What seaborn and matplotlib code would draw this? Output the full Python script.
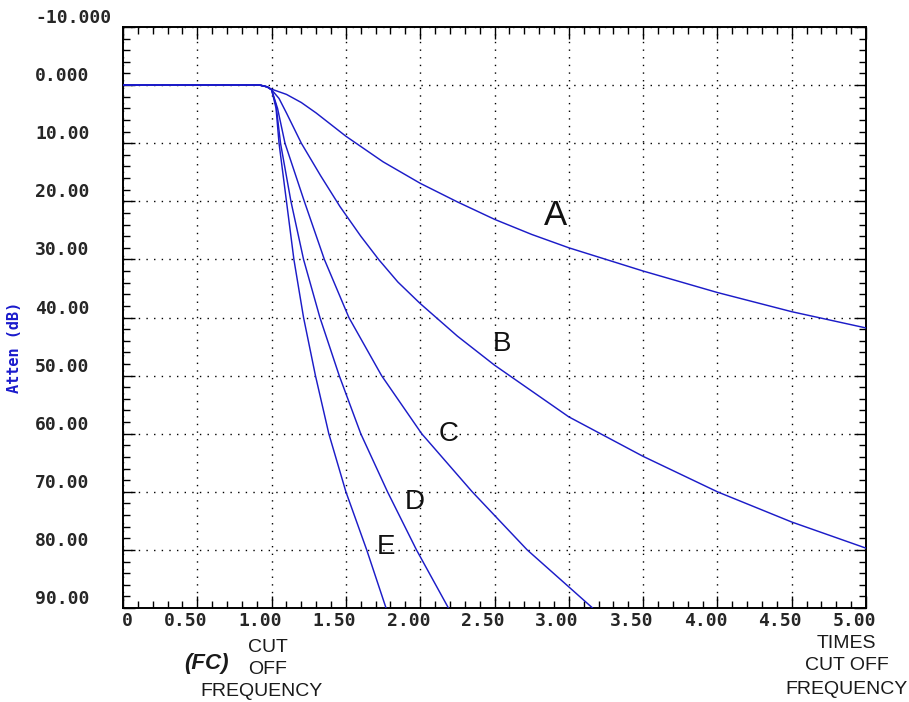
import matplotlib
matplotlib.use("Agg")
import matplotlib.pyplot as plt
import matplotlib.transforms as mtransforms
from matplotlib.ticker import MultipleLocator
import pandas as pd
import seaborn as sns

# attenuation (dB) vs frequency (times cut-off)
a_freq = [0, 0.92, 0.97, 1.0, 1.1, 1.2, 1.3, 1.4, 1.5, 1.75, 2.0, 2.25,
          2.5, 2.75, 3.0, 3.5, 4.0, 4.5, 5.0]
a_atten = [0, 0, 0.3, 0.7, 1.6, 3.0, 4.8, 6.8, 8.8, 13.2, 16.9, 20.1,
           23.1, 25.7, 28.0, 32.0, 35.7, 39.0, 41.8]

b_freq = [0, 0.92, 0.97, 1.0, 1.05, 1.1, 1.2, 1.33, 1.46, 1.6, 1.72, 1.85,
          2.0, 2.25, 2.5, 3.0, 3.5, 4.0, 4.5, 5.0]
b_atten = [0, 0, 0.3, 0.8, 2.3, 4.8, 10.0, 15.6, 20.9, 26.0, 30.0, 33.9,
           37.6, 43.2, 48.2, 57.1, 63.9, 70.0, 75.2, 79.7]

c_freq = [0, 0.92, 0.97, 1.0, 1.04, 1.09, 1.22, 1.355, 1.52, 1.74, 2.01,
          2.35, 2.72, 3.16]
c_atten = [0, 0, 0.3, 0.8, 4.0, 10.0, 20.0, 30.0, 40.0, 50.0, 60.0,
           70.0, 80.0, 90.0]

d_freq = [0, 0.92, 0.97, 1.0, 1.03, 1.06, 1.13, 1.215, 1.325, 1.455, 1.60,
          1.78, 1.975, 2.19]
d_atten = [0, 0, 0.3, 0.8, 3.5, 10.0, 20.0, 30.0, 40.0, 50.0, 60.0,
           70.0, 80.0, 90.0]

e_freq = [0, 0.92, 0.97, 1.0, 1.03, 1.05, 1.10, 1.15, 1.215, 1.295, 1.385,
          1.50, 1.64, 1.77]
e_atten = [0, 0, 0.3, 0.8, 4.0, 10.0, 20.0, 30.0, 40.0, 50.0, 60.0,
           70.0, 80.0, 90.0]

curve_names = ["A", "B", "C", "D", "E"]
label_x = [2.91, 2.55, 2.19, 1.96, 1.77]
label_y = [22.4, 44.6, 60.1, 71.7, 79.5]
label_size = [25, 20, 20, 20, 20]

x_ticks = [0, 0.5, 1.0, 1.5, 2.0, 2.5, 3.0, 3.5, 4.0, 4.5, 5.0]
x_tick_labels = ["0", "0.50", "1.00", "1.50", "2.00", "2.50", "3.00",
                 "3.50", "4.00", "4.50", "5.00"]
y_ticks = [-10, 0, 10, 20, 30, 40, 50, 60, 70, 80, 90]
y_tick_labels = ["-10.000", "0.000", "10.00", "20.00", "30.00", "40.00",
                 "50.00", "60.00", "70.00", "80.00", "90.00"]

LINE_BLUE = "#1c1cc8"
MONO = ["DejaVu Sans Mono"]
SANS = ["Liberation Sans", "DejaVu Sans"]

frames = []
for name, f, at in zip(curve_names,
                       [a_freq, b_freq, c_freq, d_freq, e_freq],
                       [a_atten, b_atten, c_atten, d_atten, e_atten]):
    frames.append(pd.DataFrame({"freq": f, "atten": at, "curve": name}))
df = pd.concat(frames, ignore_index=True)

sns.set_style("ticks")
fig = plt.figure(figsize=(9.09, 7.02), dpi=100)
ax = fig.add_axes([123 / 909, 94 / 702, 743 / 909, 581 / 702])

sns.lineplot(data=df, x="freq", y="atten", hue="curve", units="curve",
             estimator=None, sort=False, palette=[LINE_BLUE] * 5,
             linewidth=1.05, legend=False, ax=ax, zorder=3)

for name, lx, ly, fs in zip(curve_names, label_x, label_y, label_size):
    ax.text(lx, ly, name, ha="center", va="center", fontsize=fs,
            family=SANS, color="#111111", zorder=4)

ax.set_xlim(0, 5.0)
ax.set_ylim(90, -10)
ax.set_xlabel("")
ax.set_ylabel("")

ax.set_xticks(x_ticks, x_tick_labels)
ax.set_yticks(y_ticks, y_tick_labels)
ax.xaxis.set_minor_locator(MultipleLocator(0.1))
ax.yaxis.set_minor_locator(MultipleLocator(2))
ax.tick_params(which="both", direction="in", top=True, right=True,
               color="black", width=1.0)
ax.tick_params(which="major", length=8.5)
ax.tick_params(which="minor", length=5)
ax.tick_params(axis="y", which="major", pad=63.4)
ax.tick_params(axis="x", which="major", pad=3)

x_shift = mtransforms.ScaledTranslation(10 / 100, 0, fig.dpi_scale_trans)
for lbl in ax.get_xticklabels():
    lbl.set_ha("right")
    lbl.set_transform(lbl.get_transform() + x_shift)
    lbl.set_fontfamily(MONO)
    lbl.set_fontweight("bold")
    lbl.set_fontsize(13)
for lbl in ax.get_yticklabels():
    lbl.set_ha("left")
    lbl.set_va("bottom")
    lbl.set_fontfamily(MONO)
    lbl.set_fontweight("bold")
    lbl.set_fontsize(13)

ax.grid(True, which="major", color="black", linestyle=(0, (1, 4.5)),
        linewidth=1.0)
ax.set_axisbelow(True)
for sp in ax.spines.values():
    sp.set_visible(True)
    sp.set_color("black")
    sp.set_linewidth(1.4)

fig.text(15 / 909, 1 - 347 / 702, "Atten (dB)", rotation=90, ha="center",
         va="center", family=MONO, fontweight="bold", fontsize=11,
         color="#1a1acc")

note_color = "#1a1a1a"
fig.text(206 / 909, 1 - 663 / 702, "(FC)", ha="center", va="center",
         family=SANS, fontweight="bold", style="italic", fontsize=16,
         color=note_color)
fig.text(248 / 909, 1 - 648 / 702, "CUT", ha="left", va="center",
         family=SANS, fontsize=14, color=note_color)
fig.text(248 / 909, 1 - 670 / 702, "OFF", ha="left", va="center",
         family=SANS, fontsize=14, color=note_color)
fig.text(261.5 / 909, 1 - 692 / 702, "FREQUENCY", ha="center", va="center",
         family=SANS, fontsize=14, color=note_color)
for txt, yy in [("TIMES", 644), ("CUT OFF", 666), ("FREQUENCY", 690)]:
    fig.text(846.5 / 909, 1 - yy / 702, txt, ha="center", va="center",
             family=SANS, fontsize=14, color=note_color)

fig.savefig("out.png", dpi=100)
plt.close(fig)
